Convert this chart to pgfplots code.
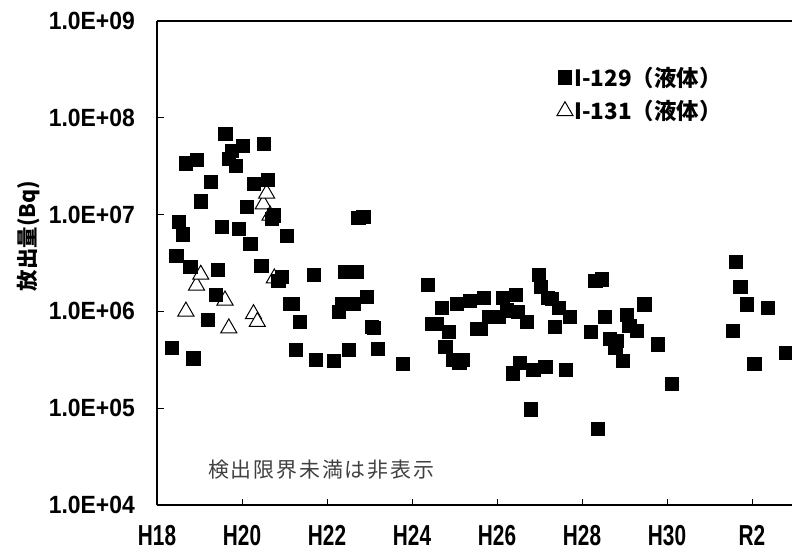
\documentclass[border=0pt]{standalone}
\usepackage{fontspec}
\setmainfont{Liberation Sans}
\newfontfamily\jp{Noto Sans CJK JP}
\newfontfamily\jpls[LetterSpace=9]{Noto Sans CJK JP}
\newfontfamily\xtf[FakeStretch=0.72]{Liberation Sans Bold}
\newfontfamily\ytf[FakeStretch=0.92]{Liberation Sans Bold}
\usepackage{pgfplots}
\pgfplotsset{compat=1.18}
\usepackage{pgfplotstable}

\pgfplotstableread{
x y
18.35 4.2e5
18.45 3.8e6
18.51 8.4e6
18.60 6.3e6
18.68 3.4e7
18.78 2.9e6
18.85 3.3e5
18.93 3.7e7
19.03 1.38e7
19.19 8.2e5
19.27 2.2e7
19.37 1.5e6
19.43 2.7e6
19.52 7.5e6
19.60 6.9e7
19.69 3.8e7
19.76 4.6e7
19.85 3.2e7
19.92 7.1e6
20.02 5.2e7
20.11 1.2e7
20.19 5.0e6
20.28 2.1e7
20.45 3.0e6
20.51 5.4e7
20.61 2.3e7
20.70 9.1e6
20.75 9.9e6
20.85 2.1e6
20.93 2.3e6
21.04 6.1e6
21.13 1.2e6
21.19 1.2e6
21.26 4.0e5
21.36 7.8e5
21.69 2.4e6
21.74 3.15e5
22.15 3.1e5
22.27 1.0e6
22.35 1.2e6
22.42 2.6e6
22.46 1.2e6
22.50 4.0e5
22.62 1.2e6
22.70 2.6e6
22.73 9.3e6
22.85 9.5e6
22.93 1.42e6
23.05 7.0e5
23.10 6.8e5
23.19 4.1e5
23.78 2.9e5
24.37 1.9e6
24.46 7.5e5
24.58 7.5e5
24.70 1.09e6
24.78 4.3e5
24.86 6.2e5
24.95 3.2e5
25.04 1.2e6
25.11 3.0e5
25.18 3.2e5
25.35 1.3e6
25.52 6.7e5
25.62 6.6e5
25.68 1.4e6
25.80 8.8e5
26.03 8.9e5
26.13 1.4e6
26.23 1.03e6
26.37 2.3e5
26.44 1.5e6
26.49 9.9e5
26.53 2.95e5
26.70 7.8e5
26.79 9.8e4
26.85 2.5e5
26.97 2.4e6
27.03 1.8e6
27.13 2.7e5
27.19 1.4e6
27.29 1.35e6
27.36 7.0e5
27.45 1.09e6
27.62 2.5e5
27.70 8.8e5
28.20 6.2e5
28.31 2.07e6
28.37 6.1e4
28.46 2.16e6
28.54 8.8e5
28.64 5.2e5
28.78 4.2e5
28.82 5.0e5
28.96 3.1e5
29.04 9.2e5
29.11 7.2e5
29.29 6.3e5
29.46 1.19e6
29.78 4.6e5
30.11 1.8e5
31.55 6.3e5
31.62 3.26e6
31.72 1.8e6
31.88 1.19e6
32.05 2.9e5
32.37 1.09e6
32.79 3.75e5
}\iodinetwentynine

\pgfplotstableread{
x y
18.68 1.0e6
18.93 1.85e6
19.03 2.4e6
19.60 1.3e6
19.69 6.7e5
20.27 9.4e5
20.36 7.8e5
20.50 1.28e7
20.58 1.65e7
20.66 9.8e6
20.76 2.2e6
}\iodinethirtyone

\begin{document}
\begin{tikzpicture}
\begin{axis}[
  scale only axis, width=635bp, height=484bp,
  xmin=18, xmax=32.941,
  ymode=log, ymin=1e4, ymax=1e9,
  axis x line*=box, axis y line*=left,
  axis line style={line width=2.6bp, -},
  tick style={line width=0.9bp, black},
  major tick length=6.5bp,
  tick align=inside,
  xtick pos=left, ytick pos=left,
  xtick={18,20,22,24,26,28,30,32},
  xticklabels={H18,H20,H22,H24,H26,H28,H30,R2},
  ytick={1e4,1e5,1e6,1e7,1e8,1e9},
  yticklabels={1.0E+04,1.0E+05,1.0E+06,1.0E+07,1.0E+08,1.0E+09},
  yminorticks=false, xminorticks=false,
  xticklabel style={font=\xtf\fontsize{29}{29}\selectfont, inner sep=0pt, anchor=north},
  xticklabel shift=20bp,
  yticklabel style={font=\ytf\fontsize{25}{25}\selectfont, inner sep=0pt, anchor=east},
  yticklabel shift=22bp,
  clip mode=individual,
  legend style={draw=none, fill=none, at={(axis description cs:0.6295,0.909)}, anchor=north west,
    font=\jp\bfseries\fontsize{22.5}{27}\selectfont, row sep=10bp, inner sep=0pt, nodes={inner sep=1.5bp}},
  legend cell align=left,
  reverse legend,
  legend image code/.code={\draw[mark repeat=2,mark phase=2,#1] plot coordinates {(0bp,0bp) (8bp,0bp) (16bp,0bp)};},
]
\addplot[only marks, mark=triangle*, mark size=9.3bp, mark options={draw=black, fill=white, line width=1bp}] table[x=x,y=y] {\iodinethirtyone};
\addlegendentry{I-131（液体）}
\addplot[only marks, mark=square*, mark size=6.6bp, mark options={draw=black, fill=black, line width=0.2bp}] table[x=x,y=y] {\iodinetwentynine};
\addlegendentry{I-129（液体）}
\node[rotate=90, font=\jp\bfseries\fontsize{21.5}{21.5}\selectfont, inner sep=0pt] at (axis description cs:-0.2016,0.556) {放出量(Bq)};
\node[anchor=west, font=\jpls\fontsize{21}{21}\selectfont, text=black!75, inner sep=0pt] at (axis description cs:0.0803,0.0723) {検出限界未満は非表示};
\end{axis}
\pgfresetboundingbox
\path[use as bounding box] ([xshift=-157bp,yshift=-48bp]current axis.south west) rectangle ([yshift=21bp]current axis.north east);
\end{tikzpicture}
\end{document}
